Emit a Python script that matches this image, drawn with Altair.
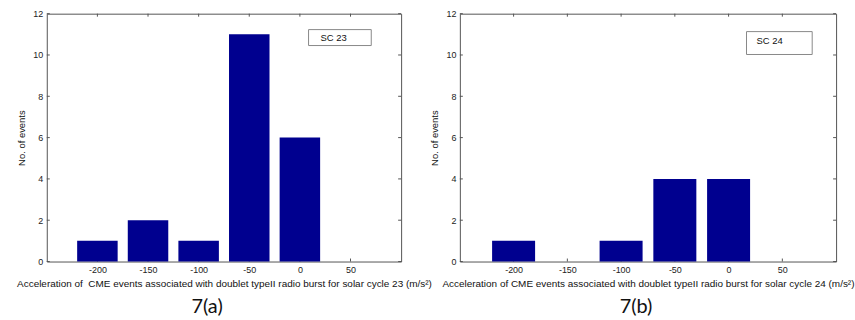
import altair as alt
import pandas as pd

# ---- data ----
bin_centers = [-200, -150, -100, -50, 0]
sc23_counts = [1, 2, 1, 11, 6]
sc24_counts = [1, 0, 1, 4, 4]
x_ticks = [-200, -150, -100, -50, 0, 50]
y_ticks = [0, 2, 4, 6, 8, 10, 12]
x_domain = [-250, 100]
y_domain = [0, 12]
bar_half_width = 20

BAR = "#00008f"
FRAME = "#555555"
FONT = "Liberation Sans"
TICK = 3


def panel(counts, cycle, tag, width, height, box, text_pos, tag_dx, double_space):
    xs = alt.Scale(domain=x_domain, nice=False, zero=False)
    ys = alt.Scale(domain=y_domain, nice=False, zero=False)
    bars_df = pd.DataFrame({"center": bin_centers, "count": counts})
    xt = pd.DataFrame({"t": x_ticks})
    yt = pd.DataFrame({"t": y_ticks})

    gap = "\u00a0 " if double_space else " "
    title = f"Acceleration of{gap}CME events associated with doublet typeII radio burst for solar cycle {cycle} (m/s\u00b2)"

    xaxis = alt.Axis(
        values=x_ticks, ticks=False, domain=False, grid=False,
        labelExpr="'' + datum.value",
        labelPadding=4, labelFontSize=9, labelFont=FONT, labelColor="#222",
        title=title, titleFont=FONT, titleFontSize=10, titleFontWeight="normal",
        titleColor="#111", titlePadding=4)
    yaxis = alt.Axis(
        values=y_ticks, ticks=False, domain=False, grid=False,
        labelPadding=4, labelFontSize=9, labelFont=FONT, labelColor="#222",
        title="No. of events", titleFont=FONT, titleFontSize=9.5,
        titleFontWeight="normal", titleColor="#111", titlePadding=6)

    top_ticks = alt.Chart(xt).mark_rule(color=FRAME, strokeWidth=1).encode(
        x=alt.X("t:Q", scale=xs, axis=xaxis),
        y=alt.value(0), y2=alt.value(TICK))
    bot_ticks = alt.Chart(xt).mark_rule(color=FRAME, strokeWidth=1).encode(
        x=alt.X("t:Q", scale=xs, axis=xaxis),
        y=alt.value(height - TICK), y2=alt.value(height))
    left_ticks = alt.Chart(yt).mark_rule(color=FRAME, strokeWidth=1).encode(
        y=alt.Y("t:Q", scale=ys, axis=yaxis),
        x=alt.value(0), x2=alt.value(TICK))
    right_ticks = alt.Chart(yt).mark_rule(color=FRAME, strokeWidth=1).encode(
        y=alt.Y("t:Q", scale=ys, axis=yaxis),
        x=alt.value(width - TICK), x2=alt.value(width))

    bars = alt.Chart(bars_df).transform_calculate(
        lo=f"datum.center - {bar_half_width}",
        hi=f"datum.center + {bar_half_width}",
    ).mark_rect(color=BAR).encode(
        x=alt.X("lo:Q", scale=xs, axis=xaxis),
        x2="hi:Q",
        y=alt.Y("count:Q", scale=ys, axis=yaxis),
        y2=alt.datum(0),
    )

    lab_df = pd.DataFrame({"label": [f"SC {cycle}"]})
    box_mark = alt.Chart(lab_df).mark_rect(fill="white", stroke="#888", strokeWidth=1).encode(
        x=alt.value(box[0]), x2=alt.value(box[1]),
        y=alt.value(box[2]), y2=alt.value(box[3]))
    box_text = alt.Chart(lab_df).mark_text(
        font=FONT, fontSize=9.5, color="#111", align="left", baseline="middle"
    ).encode(x=alt.value(text_pos[0]), y=alt.value(text_pos[1]), text="label:N")

    return alt.layer(
        top_ticks, bot_ticks, left_ticks, right_ticks, bars, box_mark, box_text
    ).properties(
        width=width, height=height,
        title=alt.TitleParams(tag, orient="bottom", anchor="middle", dx=tag_dx,
                              fontSize=20, font="Lato", fontWeight="normal",
                              color="#111", offset=9),
    )


left = panel(sc23_counts, 23, "7(a)", 356, 249, (263, 326, 16, 32), (275, 24), -17, True)
right = panel(sc24_counts, 24, "7(b)", 378, 249, (288, 354, 18, 41), (298, 27), -12, False)

chart = alt.hconcat(left, right, spacing=59, bounds="flush").properties(
    padding={"left": 15, "top": 8, "right": 0, "bottom": 0}
).configure_view(stroke=FRAME, strokeWidth=1)

chart.save("out.html", embed_options={"renderer": "svg", "actions": False})
